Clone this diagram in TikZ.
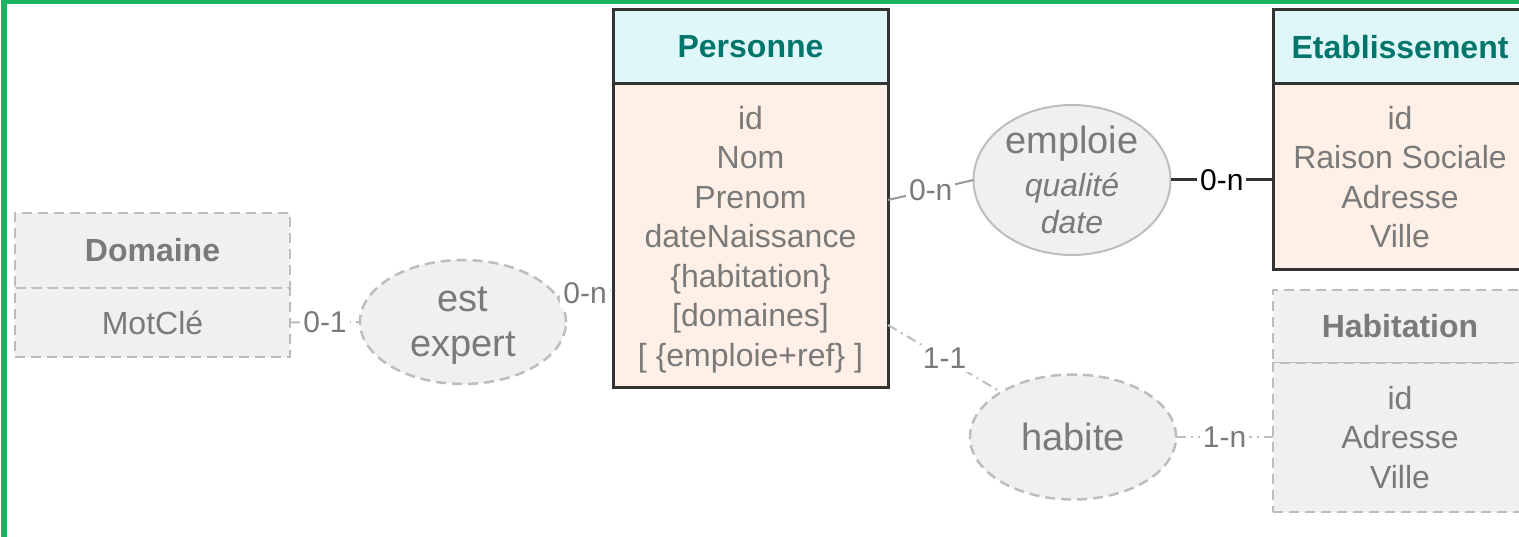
\documentclass[tikz,border=0pt]{standalone}
\usepackage{fontspec}
\setmainfont{Liberation Sans}
\usetikzlibrary{positioning,shapes.geometric}
\definecolor{mcgreen}{HTML}{1DB162}
\definecolor{mcteal}{HTML}{00756B}
\definecolor{mchead}{HTML}{E0F7FA}
\definecolor{mcbody}{HTML}{FEF0E7}
\definecolor{mcgrey}{HTML}{F0F0F0}
\definecolor{mcline}{HTML}{BDBDBD}
\definecolor{mctext}{HTML}{7A7A7A}
\definecolor{mcdark}{HTML}{333333}

\begin{document}
\begin{tikzpicture}[x=1pt, y=-1pt,
    every node/.style={font=\fontsize{32}{39.5}\selectfont, text=mctext, align=center, inner sep=0pt, outer sep=0pt},
    headbox/.style={draw=mcdark, line width=3pt, fill=mchead, text=mcteal, font=\fontsize{32}{39.5}\selectfont\bfseries},
    bodybox/.style={draw=mcdark, line width=3pt, fill=mcbody},
    ghosthead/.style={draw=mcline, line width=2.5pt, dash pattern=on 10pt off 6pt, fill=mcgrey, font=\fontsize{32}{39.5}\selectfont\bfseries},
    ghostbody/.style={draw=mcline, line width=2.5pt, dash pattern=on 10pt off 6pt, fill=mcgrey},
    assoc/.style={ellipse, draw=mcline, line width=2.5pt, fill=mcgrey, font=\fontsize{38}{45}\selectfont},
    card/.style={fill=white, inner sep=3pt, font=\fontsize{30}{32}\selectfont},
    weak/.style={draw=mcline, line width=2pt, dash pattern=on 10pt off 5pt on 2pt off 5pt}]

    \useasboundingbox (0,0) rectangle (1519,537);
    \fill[mcgreen] (1,0) rectangle (7,537);
    \fill[mcgreen] (1,0) rectangle (1519,4);

    % entities
    \node[headbox, minimum width=275, minimum height=74] (persH) at (750.5,47) {Personne};
    \node[bodybox, text depth=0pt, minimum width=275, minimum height=304, below=0pt of persH] (persB)
        {id\\Nom\\Prenom\\dateNaissance\\\{habitation\}\\{}[domaines]\\{}[ \{emploie+ref\} ]};

    \node[headbox, minimum width=254, minimum height=74] (etabH) at (1400,47) {Etablissement};
    \node[bodybox, minimum width=254, minimum height=186, below=0pt of etabH] (etabB)
        {id\\Raison Sociale\\Adresse\\Ville};

    \node[ghosthead, minimum width=254, minimum height=73] (habH) at (1400,326.5) {Habitation};
    \node[ghostbody, minimum width=254, minimum height=149, below=0pt of habH] (habB)
        {id\\Adresse\\Ville};

    \node[ghosthead, minimum width=275, minimum height=75] (domH) at (152.5,250.5) {Domaine};
    \node[ghostbody, minimum width=275, minimum height=69, below=0pt of domH] (domB) {MotClé};

    % associations
    \node[assoc, dash pattern=on 10pt off 6pt, text depth=-4pt, minimum width=206, minimum height=124] (expert) at (463,322)
        {est\\expert};
    \node[assoc, line width=2pt, inner ysep=-14pt, minimum width=197, minimum height=150] (emp) at (1072,180)
        {emploie\\[-2pt]{\itshape\fontsize{32}{37}\selectfont qualité}\\[-8pt]{\itshape\fontsize{32}{37}\selectfont date}};
    \node[assoc, dash pattern=on 10pt off 6pt, minimum width=206, minimum height=125] (hab) at (1073,437)
        {habite};

    % links
    \draw[weak] (domB.east) -- node[card] {0-1} (expert.west);
    \draw[weak] (expert.15) -- node[card] {0-n} (persB.west |- 0,290);
    \draw[draw=mcline!80!black, line width=2pt] ([yshift=36pt]persB.east) -- node[card] {0-n} (emp.west);
    \draw[draw=mcdark, line width=3pt] (emp.east) -- node[card, text=black] {0-n} (emp.east -| etabB.west);
    \draw[weak] ([yshift=-89pt]persB.east) -- node[card] {1-1} (hab.148);
    \draw[weak] (hab.east) -- node[card] {1-n} (hab.east -| habB.west);
\end{tikzpicture}
\end{document}
